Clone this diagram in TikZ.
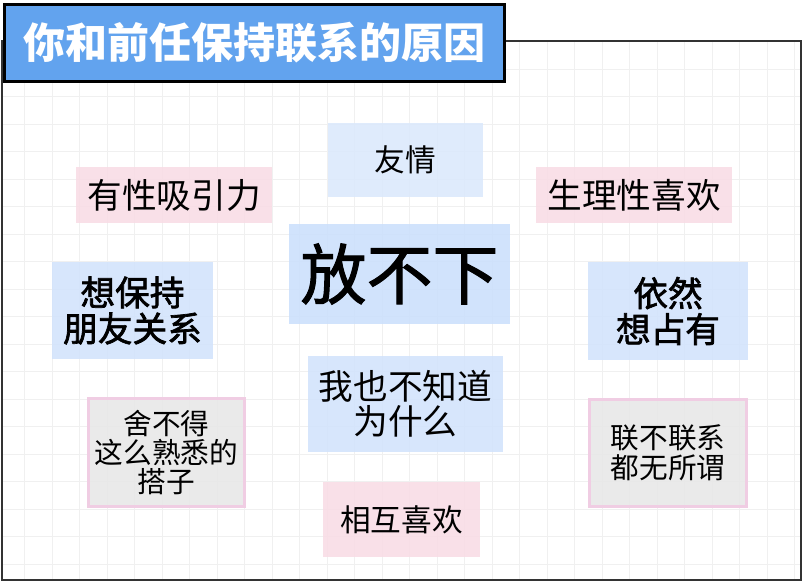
\documentclass[tikz,border=0pt]{standalone}
\usepackage{fontspec}
\newfontfamily\cjk{Noto Sans CJK SC}
\newfontfamily\cjkmed[FakeBold=2]{Noto Sans CJK SC}
\newfontfamily\cjkbig[FakeBold=1.5]{Noto Sans CJK SC}
\definecolor{gridc}{HTML}{F0F0F0}
\definecolor{framec}{HTML}{333333}
\definecolor{titlec}{HTML}{62A3EE}
\definecolor{bluec}{HTML}{D3E3FC}
\definecolor{bluelt}{HTML}{DCE9FC}
\definecolor{bluedk}{HTML}{CCE0FC}
\definecolor{pinkc}{HTML}{F8DDE6}
\definecolor{grayc}{HTML}{E8E8E8}
\definecolor{pinkline}{HTML}{F0CDE3}
\tikzset{
  gridline/.style={draw=gridc, line width=0.75pt},
  bx/.style={inner sep=0pt, align=center, text=black, fill opacity=0.9, text opacity=1},
  bluebox/.style={bx, fill=bluec},
  pinkbox/.style={bx, fill=pinkc},
  graybox/.style={bx, fill=grayc, draw=pinkline, line width=2.25pt, draw opacity=1},
  titlebox/.style={inner sep=0pt, fill=titlec, draw=black, line width=2pt, text=white,
    font=\cjk\bfseries\fontsize{31.5pt}{33pt}\selectfont}
}
\begin{document}
\begin{tikzpicture}[x=0.75pt,y=-0.75pt]
\useasboundingbox (0,0) rectangle (803,582);
% grid
\begin{scope}
  \clip (2,41) rectangle (801,580);
  \foreach \i in {0,...,29} { \draw[gridline] (24.5+27.5*\i,41) -- ++(0,545); }
  \foreach \j in {0,...,20} { \draw[gridline] (2,41.5+27.5*\j) -- ++(805,0); }
\end{scope}
% frame
\draw[draw=framec, line width=1.5pt] (2,41) rectangle (801,580);
% title
\node[titlebox, minimum width=375pt, minimum height=57.75pt] (title) at (254.5,43) {你和前任保持联系的原因};
% nodes
\node[bluebox, fill=bluelt, minimum width=116.25pt, minimum height=55.5pt,
  font=\cjk\fontsize{23pt}{25pt}\selectfont] (youqing) at (405.5,160) {友情};
\node[pinkbox, minimum width=147pt, minimum height=42pt,
  font=\cjk\fontsize{26pt}{28pt}\selectfont] (xingxiyin) at (174,195) {有性吸引力};
\node[pinkbox, minimum width=147pt, minimum height=42pt,
  font=\cjk\fontsize{26pt}{28pt}\selectfont] (shengli) at (634,195) {生理性喜欢};
\node[bluebox, fill=bluedk, minimum width=165.75pt, minimum height=75pt,
  font=\cjkbig\fontsize{49.5pt}{52pt}\selectfont] (fangbuxia) at (399.5,274) {放不下};
\node[bluebox, minimum width=120.75pt, minimum height=72.75pt,
  font=\cjkmed\fontsize{26pt}{27pt}\selectfont] (pengyou) at (132.5,310.5) {想保持\\朋友关系};
\node[bluebox, minimum width=120pt, minimum height=73.5pt,
  font=\cjkmed\fontsize{26pt}{27pt}\selectfont] (zhanyou) at (668,311) {依然\\想占有};
\node[bluebox, minimum width=146.25pt, minimum height=72pt,
  font=\cjk\fontsize{26pt}{26.5pt}\selectfont] (buzhidao) at (405.5,404) {我也不知道\\为什么};
\node[graybox, minimum width=117pt, minimum height=81pt,
  font=\cjk\fontsize{21.5pt}{22pt}\selectfont] (dazi) at (166.5,452.5) {舍不得\\这么熟悉的\\搭子};
\node[graybox, minimum width=117.75pt, minimum height=80.25pt,
  font=\cjk\fontsize{21.5pt}{22.5pt}\selectfont] (wusuowei) at (668,453) {联不联系\\都无所谓};
\node[pinkbox, minimum width=117.75pt, minimum height=56.25pt,
  font=\cjk\fontsize{23pt}{25pt}\selectfont] (xianghu) at (401.5,519.5) {相互喜欢};
\end{tikzpicture}
\end{document}
